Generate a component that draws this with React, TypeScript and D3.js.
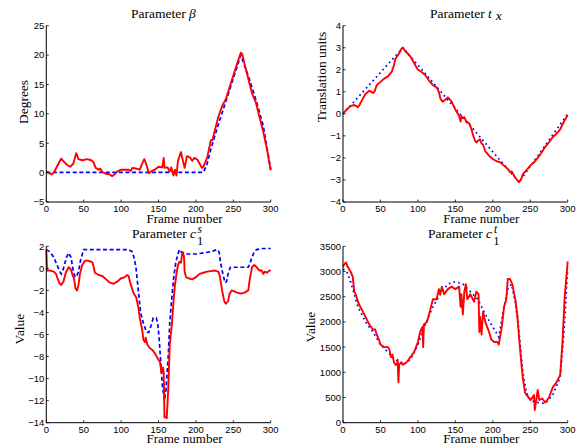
import React from "react";
import * as d3 from "d3";

// ---------- data (frame, value) ----------
const betaEstimated: [number, number][] = [
  [0, 0.2], [3, 0], [7, -0.3], [10, 0], [15, 1.2], [20, 2.4], [24, 1.8], [28, 1.3], [32, 1.0], [36, 1.5],
  [40, 3.3], [43, 2.3], [48, 2.1], [55, 2.3], [60, 2.1], [63, 1.8], [66, 0.8], [70, 0.5], [72, 0.7], [75, 0.1],
  [80, -0.2], [85, -0.3], [88, -0.6], [92, -0.2], [95, 0.2], [100, 0.5], [105, 0.5], [110, 0.5], [113, 0.3],
  [115, 0.8], [120, 0.7], [125, 0.5], [128, 1.5], [131, 2.3], [134, 1.3], [137, -0.1], [140, 0.2], [145, 0.5],
  [150, 1.0], [155, 0.9], [157, 2.5], [158, 0.8], [162, 0.9], [165, 0.2], [167, 0.9], [170, -0.5], [172, 0.5],
  [174, -0.5], [176, 2.0], [180, 3.5], [183, 1.8], [185, 0.8], [188, 2.8], [192, 2.6], [195, 2.0], [198, 2.5],
  [202, 2.2], [205, 1.5], [208, 0.8], [210, 1.0], [215, 2.5], [220, 5.5], [222, 5.5], [225, 7], [230, 9.5],
  [235, 11.3], [240, 12.5], [245, 14.5], [250, 16.5], [255, 18.5], [260, 20.4], [262, 20.2], [265, 18.5],
  [270, 16], [275, 13.5], [280, 12], [285, 9.5], [290, 7], [295, 4], [300, 0.4],
];
const betaTrue: [number, number][] = [
  [0, 0.05], [210, 0.05], [215, 1.5], [220, 4], [230, 8.2], [240, 12.1], [250, 16], [260, 20],
  [270, 16.5], [280, 12.5], [290, 8], [300, 0.5],
];

const txEstimated: [number, number][] = [
  [0, 0], [5, 0.2], [10, 0.35], [15, 0.4], [18, 0.35], [20, 0.3], [22, 0.4], [25, 0.6], [30, 0.9], [35, 1.05],
  [38, 1.0], [40, 0.95], [42, 1.0], [45, 1.3], [50, 1.45], [55, 1.6], [60, 1.7], [65, 1.9], [68, 2.2], [70, 2.5],
  [75, 2.75], [78, 2.95], [80, 3.0], [83, 2.85], [86, 2.75], [90, 2.6], [95, 2.3], [100, 2.0], [105, 1.9],
  [110, 1.75], [115, 1.5], [120, 1.3], [125, 1.2], [128, 1.0], [130, 0.7], [133, 0.55], [137, 0.65], [140, 0.75],
  [145, 0.55], [150, 0.2], [155, -0.1], [157, -0.35], [158, -0.1], [160, -0.2], [162, -0.15], [165, -0.4],
  [168, -0.4], [170, -0.55], [172, -0.75], [174, -1.0], [176, -1.2], [178, -1.3], [181, -1.2], [183, -1.15],
  [185, -1.35], [187, -1.4], [190, -1.7], [195, -1.9], [200, -2.05], [205, -2.15], [210, -2.2], [215, -2.35],
  [220, -2.5], [223, -2.65], [225, -2.6], [230, -2.9], [235, -3.1], [238, -2.95], [240, -2.75], [245, -2.55],
  [250, -2.35], [255, -2.2], [260, -2.0], [265, -1.75], [270, -1.5], [275, -1.3], [280, -1.05], [285, -0.9],
  [290, -0.7], [295, -0.35], [300, -0.05],
];
const txTrue: [number, number][] = [[0, 0], [80, 3], [235, -3.1], [300, 0]];

const csEstimated: [number, number][] = [
  [0, 1.7], [1, -0.2], [5, -0.2], [10, -0.3], [13, -0.5], [15, -0.9], [18, -1.4], [20, -1.5], [23, -1.2],
  [26, -0.4], [30, 0.1], [33, -0.1], [35, -0.6], [37, -0.9], [39, -1.8], [41, -2.0], [43, -1.5], [45, -0.5],
  [48, 0.3], [52, 0.7], [55, 0.7], [60, 0.6], [62, 0.5], [65, -0.4], [70, -0.6], [75, -0.7], [80, -1.0],
  [85, -1.3], [90, -1.4], [95, -1.2], [100, -0.9], [105, -0.8], [108, -0.6], [110, -0.7], [113, -1.5],
  [117, -2.3], [120, -2.6], [123, -3.5], [125, -4.5], [128, -5.5], [130, -6.5], [132, -6.7], [133, -6.3],
  [135, -6.9], [138, -7.2], [140, -7.3], [143, -7.5], [146, -7.8], [150, -8.3], [152, -8.5], [154, -9.5],
  [156, -9.0], [157, -9.5], [158, -13.5], [160, -13.5], [161, -13.6], [163, -11.0], [165, -7.0], [168, -5.0],
  [170, -3.0], [172, -1.5], [174, -0.5], [176, 0.3], [178, 0.6], [180, 0.5], [182, 1.5], [184, 1.1],
  [185, -0.3], [187, -0.8], [190, -0.9], [195, -1.0], [200, -0.8], [205, -0.5], [210, -0.4], [215, -0.3],
  [220, -0.25], [225, -0.2], [230, -0.3], [232, -0.7], [235, -2.0], [238, -3.0], [240, -3.2], [243, -3.0],
  [245, -2.3], [248, -2.0], [255, -2.2], [260, -2.3], [265, -2.2], [270, -2.0], [272, -1.0], [275, 0.1],
  [278, 0.3], [280, 0.2], [285, -0.2], [288, -0.2], [290, -0.5], [292, -0.3], [295, -0.4], [298, -0.2],
  [300, -0.2],
];
const csTrue: [number, number][] = [
  [0, 1.7], [5, 1.5], [10, 1.0], [15, 0.2], [18, -0.3], [20, -0.5], [23, 0.0], [27, 1.0], [30, 1.4],
  [33, 1.0], [36, -0.2], [38, -0.7], [40, -0.8], [43, -0.3], [46, 0.8], [50, 1.7], [60, 1.7], [110, 1.7],
  [115, 1.5], [118, 0.8], [120, 0.0], [123, -2], [126, -4], [130, -5.0], [134, -5.8], [137, -5.8],
  [140, -5.2], [143, -4.5], [147, -4.5], [149, -5.0], [151, -6.5], [153, -8.5], [155, -10.5], [157, -11.5],
  [158, -12], [160, -11], [163, -8], [165, -5], [168, -2.5], [170, -1.0], [173, 0.5], [176, 1.3], [178, 1.7],
  [180, 1.5], [185, 1.3], [200, 1.3], [220, 1.5], [228, 1.7], [231, 1.5], [233, 0.5], [236, -0.5],
  [239, -1.3], [241, -1.2], [243, -0.5], [246, 0.1], [250, 0.1], [270, 0.1], [272, 0.4], [275, 1.0],
  [278, 1.5], [281, 1.7], [290, 1.8], [300, 1.8],
];

const ctEstimated: [number, number][] = [
  [0, 3100], [2, 3150], [4, 3180], [6, 3100], [10, 3000], [13, 2900], [15, 2600], [17, 2550], [20, 2400],
  [23, 2300], [25, 2250], [30, 2100], [35, 1950], [40, 1850], [43, 1850], [45, 1750], [48, 1650], [50, 1550],
  [55, 1500], [60, 1500], [62, 1450], [64, 1300], [66, 1350], [68, 1200], [70, 1150], [72, 1150], [73, 1250],
  [74, 800], [75, 1150], [78, 1200], [80, 1150], [85, 1200], [90, 1300], [95, 1400], [100, 1600], [103, 1800],
  [106, 1900], [107, 1500], [108, 1950], [112, 2000], [115, 2150], [120, 2450], [125, 2450], [128, 2650],
  [130, 2550], [132, 2700], [135, 2550], [140, 2650], [145, 2700], [150, 2650], [155, 2700], [157, 2300],
  [158, 2550], [160, 2150], [162, 2600], [164, 2750], [166, 2450], [170, 2550], [175, 2400], [178, 2600],
  [181, 2550], [182, 1800], [183, 2100], [185, 1750], [187, 2200], [190, 2000], [195, 1800], [198, 1650],
  [202, 1600], [206, 1600], [208, 1550], [212, 1900], [215, 2300], [218, 2450], [220, 2850], [223, 2850],
  [226, 2750], [230, 2450], [233, 2100], [235, 1700], [238, 1200], [240, 900], [243, 600], [245, 550],
  [248, 500], [250, 450], [253, 500], [255, 550], [256, 250], [258, 450], [260, 650], [262, 450], [266, 480],
  [270, 400], [275, 500], [280, 700], [285, 800], [290, 950], [293, 1600], [296, 2500], [300, 3200],
];
const ctTrue: [number, number][] = [
  [0, 3050], [5, 3000], [10, 2800], [20, 2300], [30, 2000], [40, 1800], [50, 1550], [60, 1400], [70, 1250],
  [80, 1150], [90, 1250], [100, 1550], [110, 1950], [120, 2300], [130, 2550], [140, 2750], [150, 2800],
  [160, 2750], [170, 2600], [180, 2450], [190, 2150], [200, 1900], [208, 1700], [215, 2300], [220, 2650],
  [225, 2750], [230, 2400], [235, 1800], [240, 1000], [245, 600], [250, 450], [260, 400], [270, 380],
  [280, 550], [290, 900], [295, 1800], [300, 3050],
];

const frameTicks = [0, 50, 100, 150, 200, 250, 300];
const betaTicks = [-5, 0, 5, 10, 15, 20, 25];
const txTicks = [-4, -3, -2, -1, 0, 1, 2, 3, 4];
const csTicks = [-14, -12, -10, -8, -6, -4, -2, 0, 2];
const ctTicks = [0, 500, 1000, 1500, 2000, 2500, 3000, 3500];

const SERIF = "'Liberation Serif', 'Times New Roman', serif";
const SANS = "'Liberation Sans', Arial, Helvetica, sans-serif";

type PanelProps = {
  x0: number; x1: number; y0: number; y1: number;
  yDomain: [number, number];
  yTicks: number[];
  est: [number, number][];
  tru: [number, number][];
  dotted: boolean;
  title: React.ReactNode;
  ylabel: string;
  ylabelX: number;
  ylabelY: number;
};

function fmt(v: number) {
  return v < 0 ? "\u2212" + Math.abs(v) : String(v);
}

function Panel(p: PanelProps) {
  const xs = d3.scaleLinear().domain([0, 300]).range([p.x0, p.x1]);
  const ys = d3.scaleLinear().domain(p.yDomain).range([p.y1, p.y0]);
  const line = d3.line<[number, number]>().x((d) => xs(d[0])).y((d) => ys(d[1]));
  const tl = 2.5;
  return (
    <g>
      <path d={line(p.tru) || ""} fill="none" stroke="#0000ff" strokeWidth={1.7}
        strokeDasharray={p.dotted ? "1.7,3.2" : "4,2.6"} />
      <path d={line(p.est) || ""} fill="none" stroke="#ff0000" strokeWidth={1.9} strokeLinejoin="round" />
      <line x1={p.x0} x2={p.x1} y1={p.y1} y2={p.y1} stroke="#000" strokeWidth={1} />
      <line x1={p.x0} x2={p.x0} y1={p.y0} y2={p.y1} stroke="#000" strokeWidth={1} />
      {frameTicks.map((t) => (
        <g key={"x" + t}>
          <line x1={xs(t)} x2={xs(t)} y1={p.y1} y2={p.y1 - tl} stroke="#000" strokeWidth={0.8} />
          <text x={xs(t)} y={p.y1 + 10} fontFamily={SANS} fontSize={9.5} textAnchor="middle">{t}</text>
        </g>
      ))}
      {p.yTicks.map((t) => (
        <g key={"y" + t}>
          <line x1={p.x0} x2={p.x0 + tl} y1={ys(t)} y2={ys(t)} stroke="#000" strokeWidth={0.8} />
          <text x={p.x0 - 2} y={ys(t) + 3.4} fontFamily={SANS} fontSize={9.5} textAnchor="end">{fmt(t)}</text>
        </g>
      ))}
      <text x={(p.x0 + p.x1) / 2 + 26} y={p.y1 + 20.5} fontFamily={SERIF} fontSize={13} textAnchor="middle">
        Frame number
      </text>
      <text transform={`translate(${p.ylabelX},${p.ylabelY}) rotate(-90)`} fontFamily={SERIF} fontSize={13.5}
        textAnchor="middle">{p.ylabel}</text>
      {p.title}
    </g>
  );
}

export default function App() {
  const L = [46.3, 270.7];
  const R = [343, 567.7];
  const T = [25.7, 202];
  const B = [246.3, 422.7];
  return (
    <svg width={583} height={447} style={{ position: "absolute", left: 0, top: 0, background: "#fff" }}>
      <rect width={583} height={447} fill="#fff" />
      <Panel x0={L[0]} x1={L[1]} y0={T[0]} y1={T[1]} yDomain={[-5, 25]} yTicks={betaTicks}
        est={betaEstimated} tru={betaTrue} dotted={false}
        ylabel="Degrees" ylabelX={28} ylabelY={102}
        title={<text x={131} y={18} fontFamily={SERIF} fontSize={13.5}>Parameter <tspan fontStyle="italic">β</tspan></text>} />
      <Panel x0={R[0]} x1={R[1]} y0={T[0]} y1={T[1]} yDomain={[-4, 4]} yTicks={txTicks}
        est={txEstimated} tru={txTrue} dotted={true}
        ylabel="Translation units" ylabelX={326} ylabelY={77}
        title={<text x={430} y={18} fontFamily={SERIF} fontSize={13.5}>Parameter <tspan fontStyle="italic">t</tspan><tspan fontStyle="italic" dx={4} dy={1.5}>x</tspan></text>} />
      <Panel x0={L[0]} x1={L[1]} y0={B[0]} y1={B[1]} yDomain={[-14, 2]} yTicks={csTicks}
        est={csEstimated} tru={csTrue} dotted={false}
        ylabel="Value" ylabelX={24} ylabelY={329}
        title={<text x={132} y={238} fontFamily={SERIF} fontSize={13.5}>Parameter <tspan fontStyle="italic">c</tspan><tspan fontStyle="italic" fontSize={11.5} dx={1.5} dy={-5.5}>s</tspan><tspan fontSize={12.5} dx={-5} dy={12.5}>1</tspan></text>} />
      <Panel x0={R[0]} x1={R[1]} y0={B[0]} y1={B[1]} yDomain={[0, 3500]} yTicks={ctTicks}
        est={ctEstimated} tru={ctTrue} dotted={true}
        ylabel="Value" ylabelX={315} ylabelY={327}
        title={<text x={428} y={238} fontFamily={SERIF} fontSize={13.5}>Parameter <tspan fontStyle="italic">c</tspan><tspan fontStyle="italic" fontSize={11.5} dx={2} dy={-5.5}>t</tspan><tspan fontSize={12.5} dx={-4} dy={12.5}>1</tspan></text>} />
    </svg>
  );
}
